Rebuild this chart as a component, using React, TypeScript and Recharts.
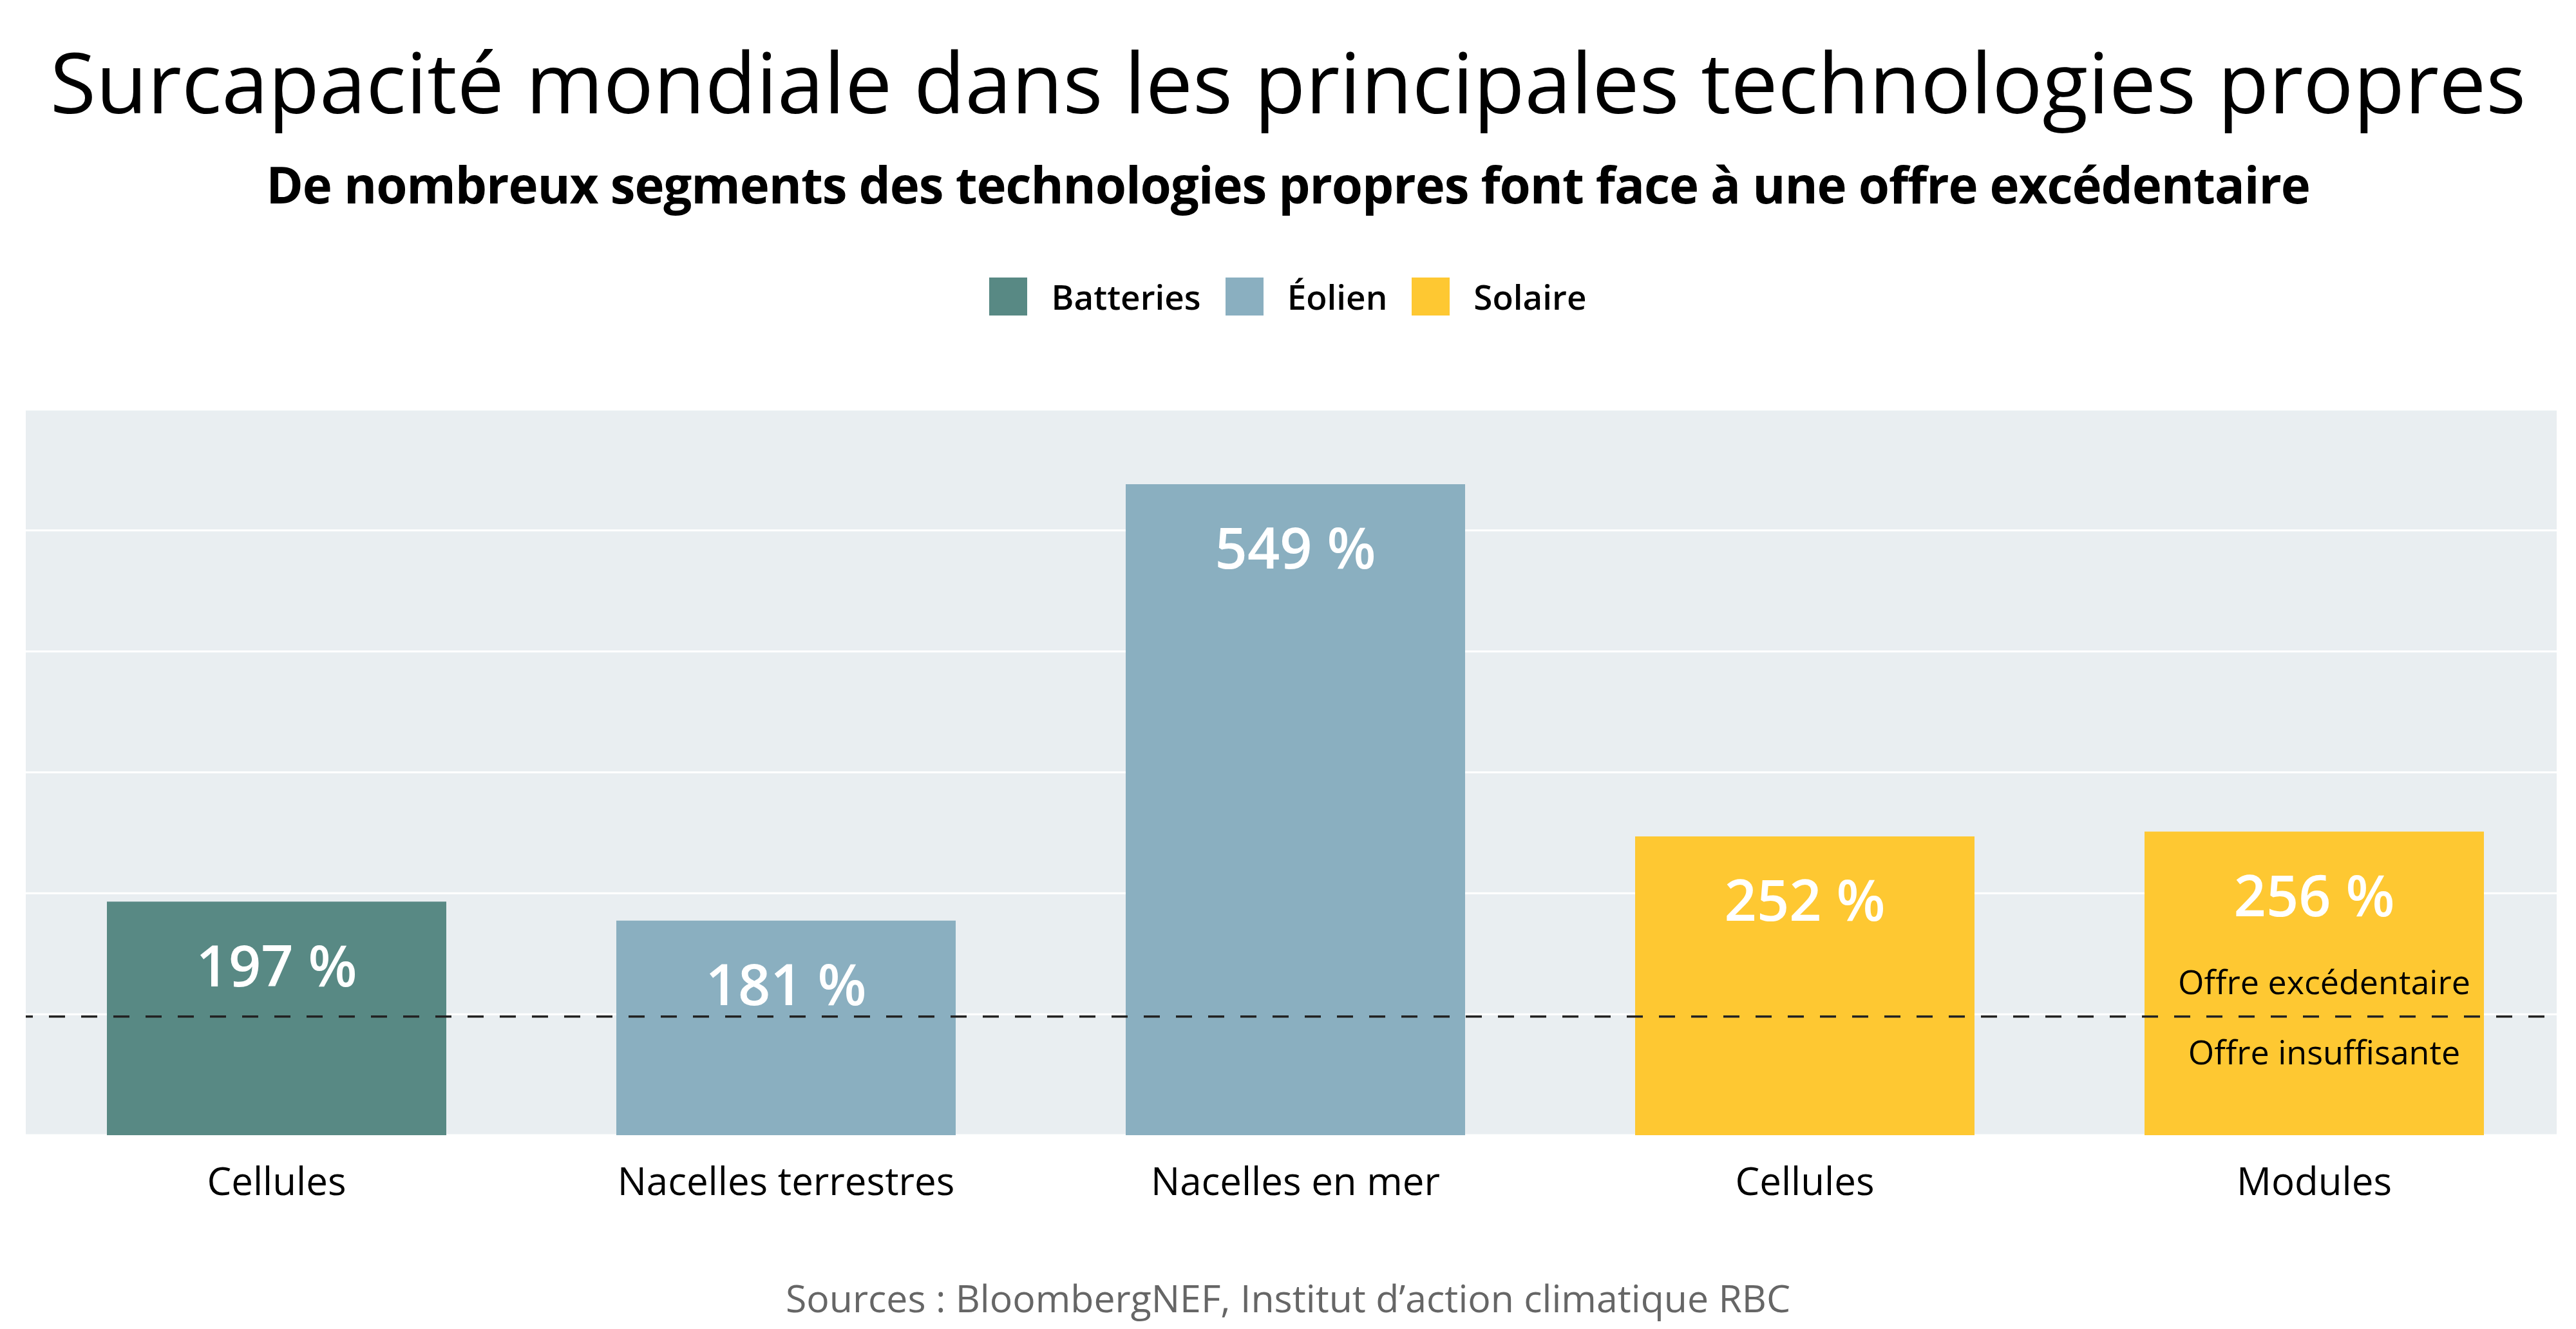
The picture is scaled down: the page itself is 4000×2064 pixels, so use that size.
import React from 'react';
import {
  BarChart, Bar, XAxis, YAxis, CartesianGrid, ReferenceLine, LabelList, Cell,
} from 'recharts';

const categories = ['Cellules', 'Nacelles terrestres', 'Nacelles en mer', 'Cellules', 'Modules'];
const overcapacity = [197, 181, 549, 252, 256];
const segmentGroup = ['Batteries', 'Éolien', 'Éolien', 'Solaire', 'Solaire'];

const groups = ['Batteries', 'Éolien', 'Solaire'];
const groupColors = ['#588984', '#8AAFC0', '#FEC832'];

const yTicks = [0, 102, 204, 306, 408, 510, 612];
const balanceLevel = 100;

const FONT = '"Open Sans", "Noto Sans", sans-serif';

const rows = categories.map((name, i) => ({
  name,
  value: overcapacity[i],
  group: segmentGroup[i],
}));

const colorOf = (group: string) => groupColors[groups.indexOf(group)];

// the two notes sit on each side of the dashed 100 % line, near the right end
const SupplyNotes = (props: any) => {
  const { viewBox } = props;
  if (!viewBox) return null;
  const cx = viewBox.x + viewBox.width - 361;
  return (
    <g fontFamily={FONT} fontSize={52} fill="#000" textAnchor="middle">
      <text x={cx} y={viewBox.y - 35}>Offre excédentaire</text>
      <text x={cx} y={viewBox.y + 74}>Offre insuffisante</text>
    </g>
  );
};

const App: React.FC = () => {
  return (
    <div
      style={{
        position: 'absolute', left: 0, top: 0, width: 4000, height: 2064,
        background: '#fff', fontFamily: FONT, overflow: 'hidden',
      }}
    >
      <BarChart
        width={4000}
        height={2064}
        data={rows}
        margin={{ top: 636, right: 30, bottom: 221, left: 40 }}
        style={{ position: 'absolute', left: 0, top: 0 }}
      >
        <CartesianGrid vertical={false} stroke="#fff" strokeWidth={3} fill="#E9EEF1" fillOpacity={1} />
        <XAxis
          dataKey="name"
          height={80}
          interval={0}
          axisLine={false}
          tickLine={false}
          tickSize={0}
          tickMargin={50}
          padding={{ left: -6, right: -19 }}
          tick={{ fontSize: 60, fill: '#000', fontFamily: FONT }}
        />
        <YAxis hide type="number" domain={[0, 612]} ticks={yTicks} />
        <Bar dataKey="value" barSize={527} isAnimationActive={false}>
          {rows.map((r, i) => (
            <Cell key={i} fill={colorOf(r.group)} />
          ))}
          <LabelList
            dataKey="value"
            position="insideTop"
            offset={69}
            formatter={(v: any) => `${v} %`}
            fill="#fff"
            fontSize={88}
            fontWeight={600}
            fontFamily={FONT}
          />
        </Bar>
        <ReferenceLine
          y={balanceLevel}
          stroke="#222"
          strokeWidth={3.5}
          strokeDasharray="25 25"
          strokeDashoffset={14}
          label={<SupplyNotes />}
        />
      </BarChart>

      {/* titles */}
      <div
        style={{
          position: 'absolute', left: 0, top: 61, width: 4000, textAlign: 'center',
          fontSize: 130, lineHeight: 1, color: '#000',
        }}
      >
        Surcapacité mondiale dans les principales technologies propres
      </div>
      <div
        style={{
          position: 'absolute', left: 0, top: 247, width: 4000, textAlign: 'center',
          fontSize: 78, letterSpacing: -1.1, lineHeight: 1, fontWeight: 700, color: '#000',
        }}
      >
        De nombreux segments des technologies propres font face à une offre excédentaire
      </div>

      {/* legend */}
      <div
        style={{
          position: 'absolute', left: 0, top: 431, width: 4000, height: 59,
          display: 'flex', justifyContent: 'center', alignItems: 'center',
        }}
      >
        {groups.map((g, i) => (
          <div key={g} style={{ display: 'flex', alignItems: 'center', marginRight: i < groups.length - 1 ? 38 : 0 }}>
            <div style={{ width: 59, height: 59, background: groupColors[i], marginRight: 37 }} />
            <span style={{ fontSize: 53, lineHeight: 1, fontWeight: 600, color: '#000' }}>{g}</span>
          </div>
        ))}
      </div>

      <div
        style={{
          position: 'absolute', left: 0, top: 1986, width: 4000, textAlign: 'center',
          fontSize: 59, lineHeight: 1, color: '#666',
        }}
      >
        Sources : BloombergNEF, Institut d’action climatique RBC
      </div>
    </div>
  );
};

export default App;
